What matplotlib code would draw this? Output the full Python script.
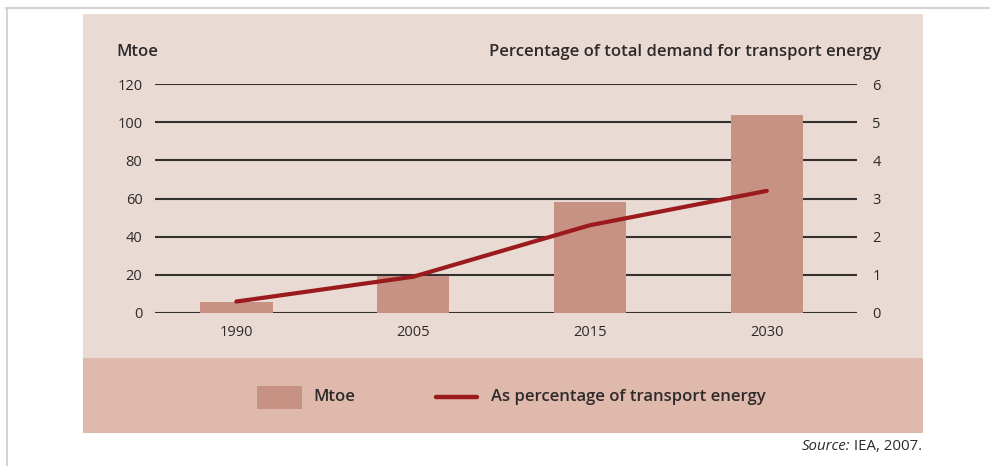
import matplotlib
matplotlib.use("Agg")
import matplotlib.pyplot as plt
from matplotlib.patches import Rectangle
from matplotlib.lines import Line2D

years = ["1990", "2005", "2015", "2030"]
mtoe = [6, 19.5, 58, 104]
pct_transport = [0.3, 0.95, 2.3, 3.2]
left_ticks = [0, 20, 40, 60, 80, 100, 120]
right_ticks = [0, 1, 2, 3, 4, 5, 6]

BAR = "#C79283"
LINE = "#9A1A1D"
PANEL_TOP = "#E9DAD4"
PANEL_BOTTOM = "#DEB9AC"
GRID = "#353030"
TEXT = "#2E2A2A"

plt.rcParams["font.family"] = ["Open Sans", "DejaVu Sans"]

W, H = 990, 466
fig = plt.figure(figsize=(W / 100, H / 100), dpi=100)


def fx(px):
    return px / W


def fy(py):
    return 1 - py / H


# page frame and shaded panel
fig.add_artist(Line2D([fx(6), 1], [fy(8), fy(8)], color="#D4D4D4", lw=1.5))
fig.add_artist(Line2D([fx(6.5), fx(6.5)], [fy(8), 0], color="#D4D4D4", lw=1.5))
fig.add_artist(Rectangle((fx(83), fy(358)), fx(923) - fx(83), fy(14) - fy(358),
                         color=PANEL_TOP, lw=0, zorder=0))
fig.add_artist(Rectangle((fx(83), fy(433)), fx(923) - fx(83), fy(358) - fy(433),
                         color=PANEL_BOTTOM, lw=0, zorder=0))

ax = fig.add_axes([fx(155), fy(313), fx(857) - fx(155), fy(84) - fy(313)])
ax.patch.set_alpha(0)
x = range(len(years))
for v in left_ticks:
    ax.axhline(v, color=GRID, lw=1.5, zorder=1)
ax.bar(x, mtoe, width=0.41, color=BAR, zorder=2)
ax.set_xlim(-0.46, 3.51)
ax.set_ylim(0, 120)
ax.set_yticks(left_ticks)
ax.set_xticks(list(x))
ax.set_xticklabels(years)
ax.tick_params(axis="both", length=0, labelsize=10.5, colors=TEXT)
ax.tick_params(axis="y", pad=9)
ax.tick_params(axis="x", pad=9)
for s in ax.spines.values():
    s.set_visible(False)

ax2 = ax.twinx()
ax2.patch.set_alpha(0)
ax2.plot(x, pct_transport, color=LINE, lw=3, solid_capstyle="round", zorder=3)
ax2.set_ylim(0, 6)
ax2.set_yticks(right_ticks)
ax2.tick_params(axis="y", length=0, labelsize=10.5, colors=TEXT, pad=11)
for s in ax2.spines.values():
    s.set_visible(False)

fig.text(fx(116), fy(52), "Mtoe", fontsize=12, fontweight="semibold",
         color=TEXT, ha="left", va="center")
fig.text(fx(881), fy(52), "Percentage of total demand for transport energy",
         fontsize=12, fontweight="semibold", color=TEXT, ha="right", va="center")

# legend band
fig.add_artist(Rectangle((fx(257), fy(409)), fx(302) - fx(257), fy(386) - fy(409),
                         color=BAR, lw=0, zorder=2))
fig.text(fx(313), fy(397), "Mtoe", fontsize=12, fontweight="semibold",
         color=TEXT, ha="left", va="center")
fig.add_artist(Line2D([fx(436), fx(477)], [fy(397), fy(397)], color=LINE,
                      lw=3.2, solid_capstyle="round", zorder=2))
fig.text(fx(491), fy(397), "As percentage of transport energy", fontsize=12,
         fontweight="semibold", color=TEXT, ha="left", va="center")

# source note: italic label placed just left of the plain part
src = fig.text(fx(922), fy(446), " IEA, 2007.", fontsize=10.8, color=TEXT,
               ha="right", va="center")
renderer = fig.canvas.get_renderer()
bb = src.get_window_extent(renderer)
fig.text(bb.x0 / W, fy(446), "Source:", fontsize=10.8, style="italic",
         color=TEXT, ha="right", va="center")

fig.savefig("out.png", dpi=100, facecolor="white")
